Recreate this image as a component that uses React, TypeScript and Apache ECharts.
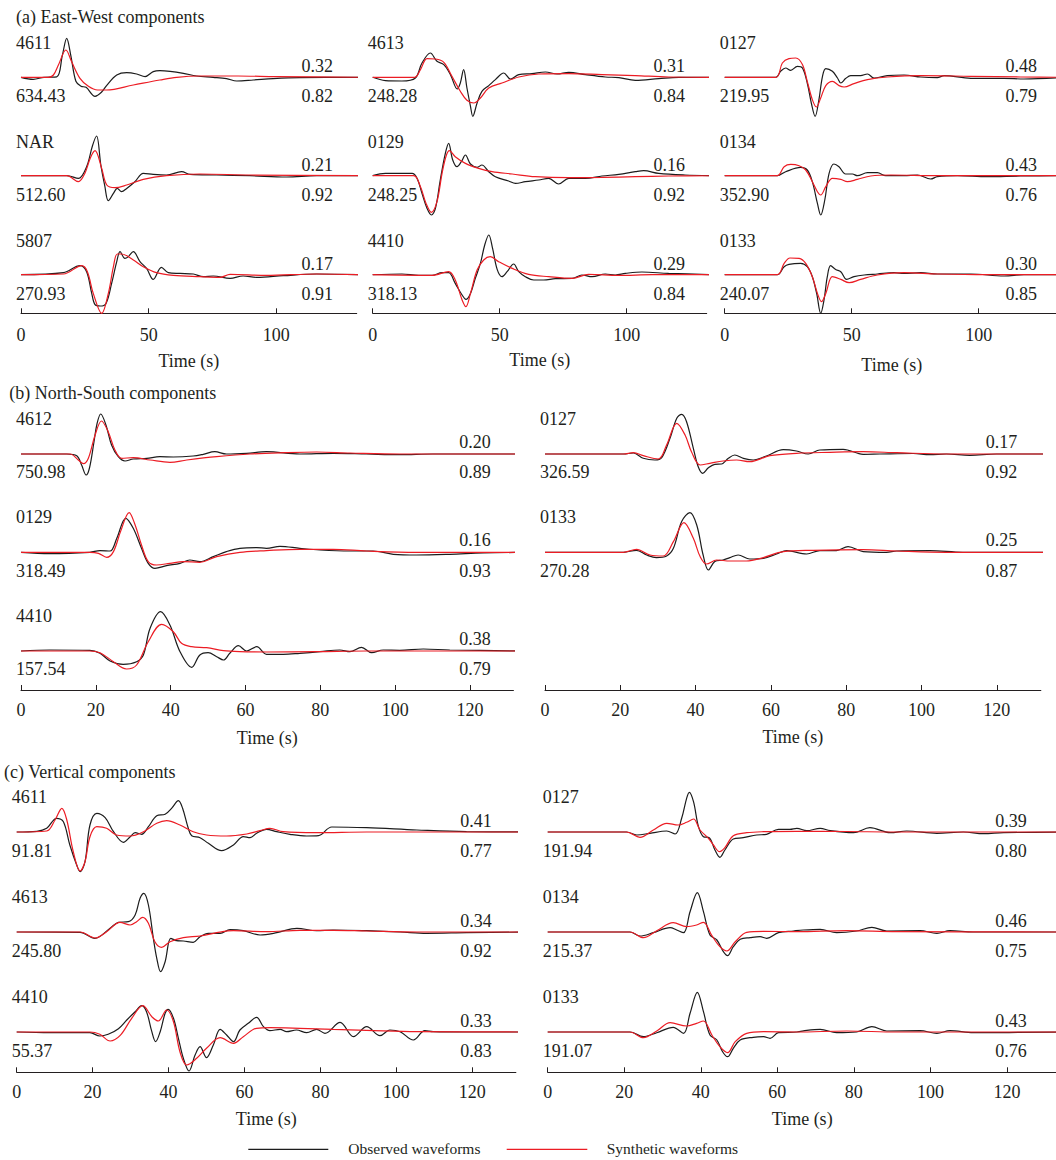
import React, { useEffect, useRef } from "react";
import * as echarts from "echarts";

type Pt = [number, number];

// ---------- (a) East-West components: time (s), normalised amplitude ----------
const EW_4611_OBS: Pt[] = [[0,0],[4.8,-2],[9,0],[14,0.5],[16.2,22],[17.9,39],[19.5,22],[21.5,-4],[23.5,-9],[25.5,-10],[29,-19],[31.5,-15],[33.6,-8],[37.5,2.3],[41.4,4.7],[45.3,3.3],[48.6,0.7],[51.8,5.7],[54.4,6.7],[58.4,6],[63.6,4],[68.8,1.3],[75.3,0],[80.5,-1.3],[84.5,-3.7],[91,-2.7],[98.8,-1.3],[109.3,-0.3],[135,0]];
const EW_4611_SYN: Pt[] = [[0,0],[10.7,0],[12.7,2.3],[14.6,12],[17.6,27.3],[19.8,15.7],[23.1,-1],[26.4,-9],[30,-12.7],[33.5,-12.7],[44,-7.7],[54.4,-2.7],[61,0],[70,1.3],[85,1.3],[100,0.7],[135,0]];
const EW_NAR_OBS: Pt[] = [[0,0],[17.9,0],[22.5,-2.7],[25.7,9],[28,30],[29.6,39.7],[31.3,10],[32.8,-10],[34.2,-25],[36.2,-17.7],[37.7,-12.7],[39.4,-16],[41.4,-12.7],[44.6,-6],[47.9,2.3],[51.8,1.3],[57,0.7],[62.9,4],[66.2,1.3],[76.6,0.7],[89.7,0],[104,-1.3],[115.8,0],[135,0]];
const EW_NAR_SYN: Pt[] = [[0,0],[17.9,0],[22.5,-6],[25,2.3],[27.2,18],[29,25],[31.6,7.3],[33.6,-9.3],[36.8,-12],[41.4,-9.3],[47.9,-3.7],[57,0],[70,1.7],[89.7,0.7],[135,0]];
const EW_5807_OBS: Pt[] = [[0,0],[16.6,2],[23.1,9],[25.7,3],[27.7,-18.7],[29,-30],[31,-31.3],[33.3,-28.7],[35.5,-8.7],[37.5,13],[38.8,23],[40.7,16.3],[42,18],[44,23],[46.6,13],[49.2,6.3],[51.8,-4.7],[55,7.3],[57.7,2],[62.3,1.3],[67.5,0.7],[71.4,-2],[75.3,-1.3],[81.9,-3.7],[87,-1.3],[92.3,-2.7],[102.7,-1],[115.8,0.7],[135,0]];
const EW_5807_SYN: Pt[] = [[0,0],[16.6,0.7],[23.8,9],[26,3],[28.3,-18.7],[31.6,-38.7],[34.2,-18.7],[36.2,8],[37.7,20.7],[39.4,20.7],[44,14.7],[47.9,8],[53.1,2],[59.7,-0.7],[70,-2],[78,-2.7],[81.9,0.3],[96,-0.7],[115.8,0.7],[135,0]];
const EW_4613_OBS: Pt[] = [[0,0],[5,-3.3],[11.5,-3.7],[16.8,-0.7],[19.4,14.3],[22.7,24.3],[25.3,16],[28,12.7],[30.6,2.7],[33.3,-11.7],[34.5,-5.7],[35.8,7.7],[37.1,-10.7],[38.5,-29],[39.4,-39],[41.1,-25.7],[43,-14],[45.7,-8.3],[48.3,-2.3],[51.6,4.3],[54.2,-1.7],[57.5,2.7],[62.7,3.7],[68,5.3],[72.6,3.3],[77.2,5],[83.7,2.7],[91.6,0.3],[96.9,-0.3],[103.4,-3],[112.6,-1.3],[120.5,0],[135,0]];
const EW_4613_SYN: Pt[] = [[0,0],[16.5,0],[18.8,7.7],[21.4,18.7],[24.7,18.3],[28,15],[31.2,1],[34.5,-14],[37.1,-23],[39.8,-25.7],[42.4,-20.7],[45.7,-10.7],[50.9,-5.7],[57.5,0.3],[65.4,3.3],[77.2,3.7],[90.3,2.7],[103.4,1.7],[116.5,0.3],[135,0]];
const EW_0129_OBS: Pt[] = [[0,0],[5,2.3],[15.5,2.3],[17.5,-2.7],[19.4,-17.7],[21.4,-32.7],[23.1,-39.3],[24.7,-32.7],[26.6,-4.3],[28.6,22.3],[29.9,32.3],[31.5,15.7],[33.2,9],[34.9,14],[36.5,20.7],[38.5,11.7],[41.1,8.3],[43,10.7],[45.7,4],[48.3,-1],[53.5,-5.3],[56.2,-7.7],[60.1,-6],[65.4,-4.3],[69.3,-2.7],[73.2,-8.3],[77.2,-2.7],[83.7,-2.7],[90.3,-0.3],[96.9,1.3],[103.4,4],[106.7,5],[112.6,2.3],[123,0.7],[135,0]];
const EW_0129_SYN: Pt[] = [[0,0],[16.1,0],[18.8,-11],[21,-27.7],[23.1,-36.7],[25.3,-26],[27.3,2.3],[28.9,19.7],[30.2,25],[32.5,19],[36.5,12.3],[41.7,7.3],[47,4],[54.9,1.7],[64,-1],[77.2,-2],[90.3,-1.7],[103.4,-1],[116.5,-0.3],[135,0]];
const EW_4410_OBS: Pt[] = [[0,0],[11.5,0.7],[18.1,-0.7],[23.4,-0.7],[27.3,2],[29.9,2],[32.5,-8.7],[35.2,-20.3],[36.7,-24.7],[38.5,-18.7],[40.4,-3.7],[42.4,11.3],[44.1,29.7],[45.7,39.7],[47.2,26.3],[49,5.3],[50.9,-2],[52.9,3],[55.5,10.7],[57.5,3],[60.1,-2],[63.4,-5.3],[67.3,-5.3],[71.9,-4],[78.5,-3.7],[82.4,-0.3],[86.4,-2],[91.6,0.7],[95.5,-0.3],[99.5,1.3],[106,2.7],[116.5,1.3],[135,0]];
const EW_4410_SYN: Pt[] = [[0,0],[23.4,-0.7],[29.9,3],[32.5,-5.3],[35.2,-25.3],[36.7,-32],[38.5,-18.7],[41.1,4.7],[43.7,14.7],[46.3,18],[49.6,13],[54.9,6.3],[61.4,0.3],[69.3,-2],[78.5,-3.7],[85,0.3],[96.9,-0.7],[110,0],[135,0]];
const EW_0127_OBS: Pt[] = [[0,0],[20.1,0],[22,6],[24,9.3],[26,7],[28.6,11],[30.6,9.3],[32.5,-5.7],[34.1,-25.7],[35.6,-39],[37.1,-22.3],[38.5,1],[39.8,8.7],[42.4,6],[44.4,-0.7],[45.7,-5.7],[47.6,-1.3],[49.6,1.7],[53.5,1.7],[56.2,3.3],[58.8,-0.7],[64,1.7],[70.6,2.3],[77.2,0.3],[83.7,-0.3],[86.4,1.7],[96.9,-1],[110,-1],[117.8,-1.7],[135,0]];
const EW_0127_SYN: Pt[] = [[0,0],[20.1,0],[22.7,14.3],[25.3,18.7],[28,19.3],[30.6,12.7],[32.5,-4],[34.5,-22.3],[36.1,-29.7],[37.8,-20.7],[39.8,-8.3],[42.4,-4],[45,-8.3],[47,-9.7],[50.9,-6.3],[56.2,-2.3],[64,0.3],[77.2,1.7],[96.9,1],[116.5,0.3],[135,0]];
const EW_0134_OBS: Pt[] = [[0,0],[20.7,0],[24,4],[29.9,8.3],[32.5,5.7],[34.5,-6],[36.5,-27.7],[37.8,-39.3],[39.4,-24.3],[41.1,2.3],[43,11.7],[45,9],[47.6,1.7],[50.3,1.7],[52.2,0],[56.2,3],[60.1,3],[63.4,0],[70.6,0],[75.9,0.7],[81.1,-3.3],[83.7,-1],[91.6,0],[103.4,-1],[116.5,-0.3],[135,0]];
const EW_0134_SYN: Pt[] = [[0,0],[20.7,0],[23.4,9],[26,11.3],[29.3,10],[31.9,5.7],[34.5,-6],[36.5,-16],[37.8,-19.3],[39.8,-11],[42.4,-2.7],[45.7,-3.7],[48.3,-6],[52.2,-3.7],[57.5,-0.3],[65.4,0.7],[83.7,0],[135,0]];
const EW_0133_OBS: Pt[] = [[0,0],[20.7,0],[23.4,8],[25.3,10.3],[29.9,11.3],[32.5,8],[34.5,-2],[36.2,-18.7],[37.8,-38.7],[39.1,-25.3],[40.4,-2],[41.7,9],[43.7,5.3],[45.7,3],[48,-4.7],[50.9,-2],[54.9,-0.3],[60.1,0.7],[66.7,2],[70.6,1.3],[77.2,2],[83.7,0.7],[96.9,0.7],[110,-1.3],[117.8,0],[135,0]];
const EW_0133_SYN: Pt[] = [[0,0],[20.7,0],[23.4,11.3],[25.7,16.7],[29.3,16.3],[31.9,11.3],[34.5,-2],[36.5,-18.7],[38.1,-27],[39.8,-18.7],[42.4,-2],[45.7,-4.7],[49,-8],[53.5,-4.7],[60.1,-0.3],[70.6,2],[83.7,0.7],[103.4,0],[135,0]];

// ---------- (b) North-South components ----------
const NS_4612_OBS: Pt[] = [[0,0],[12.2,0],[14.9,-1.7],[16.2,-11],[17.4,-21],[18.3,-14],[19.5,12],[20.3,30],[21.3,40],[22.7,29],[24.2,9],[26,-2.7],[27.8,-7],[30,-5],[33.6,-4.3],[37.1,-2.7],[40.7,-3],[46,-2],[48.7,-0.3],[51.8,2.3],[54.9,0],[60.3,0.7],[65.6,2.3],[74.5,0],[83.4,0.7],[92.3,0],[101.2,-0.7],[110,0],[135,0]];
const NS_4612_SYN: Pt[] = [[0,0],[13.1,0],[15.3,-6],[16.7,-9.7],[18,-4.3],[19.8,19],[21.5,33],[23.3,22.3],[25.1,4],[26.9,-4.3],[30,-3.7],[34.5,-6],[39.8,-8.3],[44.3,-6],[52.3,-2.7],[61.2,0],[70.1,1.3],[79,2],[87.9,1],[101.2,0],[135,0]];
const NS_0129_OBS: Pt[] = [[0,0],[7.7,-1.3],[18.4,0],[21.1,1.7],[23.8,1.3],[25.6,14],[28,34],[30,24],[32.2,4],[34,-11],[35.8,-16],[38.9,-13.3],[42.5,-11],[45.1,-7.7],[47.8,-9.3],[51.4,-4.3],[54.9,0.7],[58.5,4],[63,4.7],[65.6,4],[69.2,6],[74.5,4],[79.9,2.3],[87.9,1.3],[94.1,1.3],[99.5,-2],[105.7,-2.7],[114.6,-2],[123.5,-0.7],[135,0]];
const NS_0129_SYN: Pt[] = [[0,0],[18.4,0],[20.7,-1],[22.9,-5],[24.7,0.7],[26.6,20.7],[28.9,39.7],[30.5,27.3],[32.2,7.3],[34,-9.3],[36.2,-12.7],[39.8,-11],[43.4,-9.3],[47.8,-10],[52.3,-4.3],[58.5,0],[65.6,1.7],[74.5,3],[83.4,3],[92.3,1.3],[105.7,0],[135,0]];
const NS_4410_OBS: Pt[] = [[0,0],[7.7,1],[18.4,0.7],[21.1,-2.3],[23.8,-10],[27.3,-13.3],[30.9,-10.7],[32.7,-4],[34.5,22.7],[37.3,39.3],[39.8,26],[42.5,-0.7],[45.6,-16.3],[47.8,-4],[50,-1.7],[52.3,-5.7],[54.1,-9],[55.8,-2.3],[58.1,5.3],[60.3,0],[63,4.3],[65.6,-3.3],[70.1,-3.3],[74.5,-2.3],[79.9,-0.7],[85.2,1],[87.9,-0.7],[91,3.7],[93.7,-1.7],[96.8,1],[101.2,0.7],[107.5,2],[114.6,1],[135,0]];
const NS_4410_SYN: Pt[] = [[0,0],[18.4,0],[21.1,-1.7],[24.7,-10.7],[28.2,-18],[30.9,-14],[34,9.3],[37.6,26.7],[40.7,19.3],[42.9,7.7],[45.6,4.3],[49.6,3.3],[54.1,0.3],[58.5,-0.7],[65.6,-1],[79,-0.7],[92.3,0],[135,0]];
const NS_0127_OBS: Pt[] = [[0,0],[20.8,0],[23.5,1],[26.1,-4.3],[29.2,-6],[31,-3.7],[33.2,15.7],[35,35.7],[36.3,39.7],[37.6,32.3],[39.4,5.7],[40.7,-12.7],[41.9,-19.3],[43.4,-13.7],[45.1,-10.3],[46.9,-10],[48.7,-4.3],[50.4,-1],[52.7,-4.3],[55.3,-6],[58.8,-2],[63.3,4.3],[66.8,3],[69.9,0],[73,4],[79.2,4.7],[84.5,-0.3],[88.9,0],[97.8,0.5],[102.2,-0.7],[106.6,0],[112.8,-1.3],[119.9,0],[135,0]];
const NS_0127_SYN: Pt[] = [[0,0],[20.8,0],[23.5,1.3],[26.1,-1.7],[30.1,-5],[32.3,9],[35,30.7],[37.2,19],[38.9,2.3],[41.2,-11],[43.8,-9.3],[47.3,-7],[50.9,-6],[54.4,-7.7],[59.7,-1.7],[66.8,0.7],[75.7,1.7],[84.5,2.3],[93.4,1.3],[106.6,0],[135,0]];
const NS_0133_OBS: Pt[] = [[0,0],[20.8,0],[24.3,2],[27,-2.7],[29.6,-5.3],[32.3,-3.7],[34.1,4],[36.3,30.7],[38.5,39.7],[40.3,27.3],[42,-2.7],[43.4,-17.7],[45.1,-9.3],[47.3,-7.7],[49.1,-5.3],[51.3,-2.7],[54.4,-6.7],[58,-6],[61.5,-1.7],[64.2,1.7],[69.5,-1.7],[73,1.7],[77.4,1.7],[80.5,5.7],[84.5,0.7],[90.7,0],[93.4,1.3],[102.2,1.7],[111,0],[135,0]];
const NS_0133_SYN: Pt[] = [[0,0],[20.8,0],[24.3,3],[27.9,-2.7],[31.4,-3.7],[34.1,10.7],[36.9,29.7],[39.4,14],[41.2,-4.3],[42.9,-11.7],[45.6,-7.7],[49.1,-8.7],[53.5,-8.7],[58,-5.3],[63.3,0.7],[71.2,2],[84.5,2.7],[93.4,1.3],[106.6,0],[135,0]];

// ---------- (c) Vertical components ----------
const UD_4611_OBS: Pt[] = [[0,0],[5.3,0.7],[7.9,3.7],[10.5,13.7],[12.3,10.3],[14,-13],[15.8,-33],[16.7,-39.7],[18,-29.7],[19.3,7],[21.1,18.7],[23.3,14.3],[25.5,0.3],[28.1,-10.3],[29.9,-4.7],[31.2,-0.7],[32.9,-2.3],[34.7,5.3],[36.9,16.3],[39.1,17.7],[40.8,23.7],[42.6,31.3],[43.7,23.7],[45.2,3.7],[46.1,-3.7],[48.3,-5.7],[50.5,-11.3],[54,-18.7],[57.1,-13],[59.7,-4.7],[61.5,-5.7],[63.2,-1.3],[65.8,2.7],[68.5,0.3],[72,-2.3],[76.4,-4],[79.5,-3.7],[83,5],[92.2,4.3],[105.4,2],[118.5,0.3],[135,0]];
const UD_4611_SYN: Pt[] = [[0,0],[7.9,1],[10.1,12],[11.9,23.7],[13.2,12],[14.9,-19.7],[16.7,-39],[18,-29.7],[19.3,-4.7],[21.1,5.3],[23.7,3.7],[26.3,-3],[29.9,-4],[33.4,0.3],[36.9,8.7],[39.5,11.3],[43,7],[46.5,0.3],[50,-3],[55.3,-4],[60.6,-2],[64.1,1.3],[66.7,3.7],[70.2,0.3],[79,-0.7],[92.2,0],[135,0]];
const UD_4613_OBS: Pt[] = [[0,0],[16.7,-0.3],[20.6,-6.3],[24.6,3.7],[26.8,9.7],[29.4,10.3],[31.2,17],[32.5,33.7],[33.5,38.7],[34.7,27],[36,-6.3],[36.9,-26.3],[37.9,-39.7],[39.1,-29.7],[40.6,-6.3],[42.1,-8.7],[43.9,-9],[46.5,-10.3],[48.3,-4.7],[50.5,-1.3],[53.6,-1.3],[56.2,2.3],[59.7,1.3],[64.1,-3],[68.5,-0.7],[73.8,3.7],[79,1.3],[83.4,2],[92.2,1.3],[101,0],[108,-1.3],[118.5,-0.7],[135,0]];
const UD_4613_SYN: Pt[] = [[0,0],[16.7,0],[20.6,-6],[23.7,0.3],[27.2,9.7],[29.9,7],[31.6,10.3],[33.2,14.7],[34.7,8.7],[36.4,-9.7],[38.2,-15.3],[40.4,-9.7],[43.9,-5.7],[48.3,-4],[52.7,-0.7],[57.1,1.3],[65.8,0.3],[74.6,1.7],[83.4,1.7],[92.2,1],[105.4,0],[135,0]];
const UD_4410_OBS: Pt[] = [[0,0],[8.8,-0.7],[19.3,-0.7],[21.9,-4],[24.1,-2.3],[26.8,3.3],[29,12],[31.2,20.3],[32.9,26.3],[34.2,20.3],[35.6,0.3],[36.6,-9.7],[37.8,0.3],[39.1,18.7],[39.9,22.7],[41.3,13.7],[42.6,-6.3],[43.9,-26.3],[45.4,-39],[47,-23],[48.3,-14.7],[50,-25.7],[51.8,-13],[53.6,2.7],[55.3,-3],[57.1,-9.7],[58.8,2],[61,8.7],[63.2,14.7],[65,5.3],[66.7,1.3],[69.4,2.7],[71.1,0.3],[73.7,2],[76.4,-0.7],[79,2.7],[81.2,-1.3],[85.2,9.7],[88.7,-4.7],[92.2,5.3],[95.7,-3.7],[98.3,2],[101,0.3],[104.5,-8],[107.5,1.3],[109.7,0.3],[118.5,0],[135,0]];
const UD_4410_SYN: Pt[] = [[0,0],[19.3,0],[21.9,-2.3],[24.6,-9],[27.2,-3.7],[30.3,13.7],[33.2,26.3],[35.6,15.3],[37.3,11],[39.5,22],[41.3,10.3],[43,-19.7],[44.8,-33],[47.4,-26.3],[50,-16.3],[53.6,-5.7],[57.1,-11.3],[59.7,-4.7],[63.2,3.7],[66.7,4.3],[74.6,3.7],[83.4,2.7],[92.2,1.7],[105.4,0.3],[135,0]];
const UD_0127_OBS: Pt[] = [[0,0],[20.6,0],[23.3,-3],[26.7,-1.3],[31.1,1],[33.3,-2],[35,13.7],[36.3,33.7],[37,39.7],[38.1,30.3],[39.4,5.3],[40.7,-4.7],[42.2,-5.7],[43.7,-18],[45,-25.3],[46.3,-18],[48.5,-7],[51.1,-5.7],[54.6,-3],[57.2,-2.3],[60.3,2.7],[63.3,2.7],[65.1,3.7],[67.7,1.3],[71.2,3.7],[73.8,1.3],[79.9,-0.7],[84.2,4.3],[89.5,-0.7],[93.8,1],[101.7,-1.3],[108.6,0],[113.9,-1.7],[119.1,-0.7],[135,0]];
const UD_0127_SYN: Pt[] = [[0,0],[20.6,0],[24.1,-5.3],[27.6,2],[31.1,8.7],[34.1,7],[36.3,9.7],[38.1,13],[39.8,2],[42,-6.3],[43.3,-13],[44.9,-19.7],[46.3,-15.7],[48.5,-3.7],[52,-0.7],[56.4,0.3],[65.1,0.7],[78.1,0.5],[91.2,0],[135,0]];
const UD_0134_OBS: Pt[] = [[0,0],[21.5,0],[24.1,-4],[27.6,-0.7],[32,4.3],[33.7,2],[35.5,-0.7],[37.2,20.3],[39.1,39.3],[40.7,20.3],[42.4,-3],[44.2,-8],[45.9,-19.7],[47,-23.7],[48.5,-14.7],[50.3,-7.3],[52.9,-5.7],[55.5,-4.7],[57.2,-6.3],[60.3,-0.7],[64.2,1],[66.8,2],[71.2,2.7],[75.5,-0.7],[80.7,1],[84.7,4.7],[88.6,1],[97.3,1.3],[101.7,-1.3],[105.1,1.3],[111.2,0],[135,0]];
const UD_0134_SYN: Pt[] = [[0,0],[21.5,0],[25,-5.7],[28.5,1.3],[32.8,9.3],[36.3,5.3],[38.9,7],[40.7,9.7],[42.9,-3.7],[45,-14.7],[46.8,-19],[49,-9.7],[52,-0.3],[56.4,0.7],[65.1,0.3],[78.1,1.3],[91.2,0.3],[135,0]];
const UD_0133_OBS: Pt[] = [[0,0],[21.5,0],[25,-4.7],[28.5,-0.7],[32.8,4.7],[35.5,-1.3],[37.2,18.7],[39.1,39.7],[40.7,20.3],[42.4,-3],[44.2,-8],[45.7,-19.7],[47,-24.7],[48.5,-16.3],[50.3,-8],[53.7,-5.3],[56.4,-4.7],[58.1,-6.3],[60.3,-0.7],[65.1,0],[67.7,1.7],[71.2,2.7],[75.5,-0.7],[80.7,0],[84.7,5.3],[88.6,1],[97.3,1.3],[101.7,-1.3],[105.1,1.3],[111.2,-0.7],[135,0]];
const UD_0133_SYN: Pt[] = [[0,0],[21.5,0],[25,-5.7],[28.5,1],[32,9.3],[36.3,6],[38.9,8.7],[40.7,11],[42.9,-3],[45,-14.7],[47,-20.7],[49,-9.7],[52,-1.3],[56.4,0.3],[65.1,0],[78.1,1],[91.2,0],[135,0]];

// ---------- station labels (column-major: top to bottom, then next column) ----------
const EW_STATIONS = ["4611", "NAR", "5807", "4613", "0129", "4410", "0127", "0134", "0133"];
const EW_AMPS = ["634.43", "512.60", "270.93", "248.28", "248.25", "318.13", "219.95", "352.90", "240.07"];
const EW_MISFIT = ["0.32", "0.21", "0.17", "0.31", "0.16", "0.29", "0.48", "0.43", "0.30"];
const EW_CORR = ["0.82", "0.92", "0.91", "0.84", "0.92", "0.84", "0.79", "0.76", "0.85"];
const EW_OBS = [EW_4611_OBS, EW_NAR_OBS, EW_5807_OBS, EW_4613_OBS, EW_0129_OBS, EW_4410_OBS, EW_0127_OBS, EW_0134_OBS, EW_0133_OBS];
const EW_SYN = [EW_4611_SYN, EW_NAR_SYN, EW_5807_SYN, EW_4613_SYN, EW_0129_SYN, EW_4410_SYN, EW_0127_SYN, EW_0134_SYN, EW_0133_SYN];

const NS_STATIONS = ["4612", "0129", "4410", "0127", "0133"];
const NS_AMPS = ["750.98", "318.49", "157.54", "326.59", "270.28"];
const NS_MISFIT = ["0.20", "0.16", "0.38", "0.17", "0.25"];
const NS_CORR = ["0.89", "0.93", "0.79", "0.92", "0.87"];
const NS_OBS = [NS_4612_OBS, NS_0129_OBS, NS_4410_OBS, NS_0127_OBS, NS_0133_OBS];
const NS_SYN = [NS_4612_SYN, NS_0129_SYN, NS_4410_SYN, NS_0127_SYN, NS_0133_SYN];

const UD_STATIONS = ["4611", "4613", "4410", "0127", "0134", "0133"];
const UD_AMPS = ["91.81", "245.80", "55.37", "191.94", "215.37", "191.07"];
const UD_MISFIT = ["0.41", "0.34", "0.33", "0.39", "0.46", "0.43"];
const UD_CORR = ["0.77", "0.92", "0.83", "0.80", "0.75", "0.76"];
const UD_OBS = [UD_4611_OBS, UD_4613_OBS, UD_4410_OBS, UD_0127_OBS, UD_0134_OBS, UD_0133_OBS];
const UD_SYN = [UD_4611_SYN, UD_4613_SYN, UD_4410_SYN, UD_0127_SYN, UD_0134_SYN, UD_0133_SYN];

const EW_TICKS = [0, 50, 100];
const NS_TICKS = [0, 20, 40, 60, 80, 100, 120];
const UD_TICKS = [0, 20, 40, 60, 80, 100, 120];

const OBS_NAME = "Observed waveforms";
const SYN_NAME = "Synthetic waveforms";
const AXIS_NAME = "Time (s)";

// ---------- styling and layout ----------
const FONT = '"Liberation Serif", "Times New Roman", serif';
const TEXT_COLOR = "#231f20";
const OBS_COLOR = "#1c1c1c";
const SYN_COLOR = "#ec1c24";
const HALF = 45; // half height of each trace strip, in amplitude units (1 unit = 1px)

interface Column {
  x0: number;
  pps: number; // pixels per second
  xMax: number;
  rows: number;
  nameGap: number;
  rightX: number;
}
interface Section {
  title: string;
  titleX: number;
  titleY: number;
  axisY: number;
  labelMargin: number;
  ticks: number[];
  baselines: number[];
  offsets: { name: number; amp: number; top: number; bottom: number };
  cols: Column[];
  stations: string[];
  amps: string[];
  misfit: string[];
  corr: string[];
  obs: Pt[][];
  syn: Pt[][];
}

const SECTIONS: Section[] = [
  {
    title: "(a) East-West components",
    titleX: 16,
    titleY: 17,
    axisY: 313.3,
    labelMargin: 12.5,
    ticks: EW_TICKS,
    baselines: [77.3, 175.7, 274.7],
    offsets: { name: -34, amp: 19, top: -11, bottom: 19 },
    cols: [
      { x0: 21, pps: 2.553, xMax: 131.5, rows: 3, nameGap: 39, rightX: 333 },
      { x0: 372.7, pps: 2.54, xMax: 131.5, rows: 3, nameGap: 37.5, rightX: 685 },
      { x0: 724.7, pps: 2.54, xMax: 131.5, rows: 3, nameGap: 42.5, rightX: 1037 },
    ],
    stations: EW_STATIONS,
    amps: EW_AMPS,
    misfit: EW_MISFIT,
    corr: EW_CORR,
    obs: EW_OBS,
    syn: EW_SYN,
  },
  {
    title: "(b) North-South components",
    titleX: 9.3,
    titleY: 393.3,
    axisY: 690,
    labelMargin: 11,
    ticks: NS_TICKS,
    baselines: [454, 552.3, 651],
    offsets: { name: -35, amp: 18.3, top: -12, bottom: 18.3 },
    cols: [
      { x0: 21, pps: 3.742, xMax: 131.6, rows: 3, nameGap: 39, rightX: 490.7 },
      { x0: 545, pps: 3.765, xMax: 131.7, rows: 2, nameGap: 38, rightX: 1017.3 },
    ],
    stations: NS_STATIONS,
    amps: NS_AMPS,
    misfit: NS_MISFIT,
    corr: NS_CORR,
    obs: NS_OBS,
    syn: NS_SYN,
  },
  {
    title: "(c) Vertical components",
    titleX: 4,
    titleY: 772.3,
    axisY: 1072.3,
    labelMargin: 11,
    ticks: UD_TICKS,
    baselines: [832, 932, 1032],
    offsets: { name: -35, amp: 19, top: -11, bottom: 19 },
    cols: [
      { x0: 16.7, pps: 3.796, xMax: 131.5, rows: 3, nameGap: 38, rightX: 491.7 },
      { x0: 547.7, pps: 3.827, xMax: 133, rows: 3, nameGap: 38, rightX: 1026.7 },
    ],
    stations: UD_STATIONS,
    amps: UD_AMPS,
    misfit: UD_MISFIT,
    corr: UD_CORR,
    obs: UD_OBS,
    syn: UD_SYN,
  },
];

function text(str: string, x: number, y: number, align: string, size = 18) {
  return {
    type: "text",
    x,
    y,
    silent: true,
    style: {
      text: str,
      fill: TEXT_COLOR,
      font: `${size}px ${FONT}`,
      align,
      verticalAlign: "middle",
      textAlign: align,
      textVerticalAlign: "middle",
    },
  };
}

function buildOption() {
  const grid: any[] = [];
  const xAxis: any[] = [];
  const yAxis: any[] = [];
  const series: any[] = [];
  const graphics: any[] = [];

  for (const sec of SECTIONS) {
    graphics.push(text(sec.title, sec.titleX, sec.titleY, "left"));
    let traceIdx = 0;
    for (const col of sec.cols) {
      const width = col.pps * col.xMax;
      for (let r = 0; r < col.rows; r++) {
        const i = traceIdx++;
        const base = sec.baselines[r];
        const g = grid.length;
        grid.push({ left: col.x0, top: base - HALF, width, height: HALF * 2, containLabel: false, outerBoundsMode: "none" });
        xAxis.push({ type: "value", gridIndex: g, min: 0, max: col.xMax, show: false });
        yAxis.push({ type: "value", gridIndex: g, min: -HALF, max: HALF, show: false });
        const common = {
          type: "line",
          xAxisIndex: g,
          yAxisIndex: g,
          symbol: "none",
          showSymbol: false,
          smooth: 0.35,
          silent: true,
          clip: true,
        };
        series.push({ ...common, name: OBS_NAME, data: sec.obs[i], z: 2, lineStyle: { color: OBS_COLOR, width: 1.2 } });
        series.push({ ...common, name: SYN_NAME, data: sec.syn[i], z: 3, lineStyle: { color: SYN_COLOR, width: 1.2 } });

        const nameX = col.x0 - 5;
        graphics.push(text(sec.stations[i], nameX, base + sec.offsets.name, "left"));
        graphics.push(text(sec.amps[i], nameX, base + sec.offsets.amp, "left"));
        graphics.push(text(sec.misfit[i], col.rightX, base + sec.offsets.top, "right"));
        graphics.push(text(sec.corr[i], col.rightX, base + sec.offsets.bottom, "right"));
      }

      // time axis under the column
      const g = grid.length;
      grid.push({ left: col.x0, top: sec.axisY - 20, width, height: 20, containLabel: false, outerBoundsMode: "none" });
      xAxis.push({
        type: "value",
        gridIndex: g,
        min: 0,
        max: col.xMax,
        position: "bottom",
        name: AXIS_NAME,
        nameLocation: "middle",
        nameGap: col.nameGap,
        nameTextStyle: { fontFamily: FONT, fontSize: 18, color: TEXT_COLOR },
        axisLine: { show: true, onZero: false, lineStyle: { color: TEXT_COLOR, width: 1 } },
        axisTick: { show: true, inside: true, length: 5, customValues: sec.ticks, lineStyle: { color: TEXT_COLOR, width: 1 } },
        axisLabel: { show: true, customValues: sec.ticks, margin: sec.labelMargin, fontFamily: FONT, fontSize: 18, color: TEXT_COLOR },
        splitLine: { show: false },
      });
      yAxis.push({ type: "value", gridIndex: g, min: 0, max: 1, show: false });
    }
  }

  // legend row
  const ly = 1149.3;
  graphics.push({ type: "line", silent: true, shape: { x1: 248.3, y1: ly, x2: 328.3, y2: ly }, style: { stroke: OBS_COLOR, lineWidth: 1.3 } });
  graphics.push(text(OBS_NAME, 348.3, ly - 1, "left", 15.5));
  graphics.push({ type: "line", silent: true, shape: { x1: 506.7, y1: ly, x2: 587.3, y2: ly }, style: { stroke: SYN_COLOR, lineWidth: 1.3 } });
  graphics.push(text(SYN_NAME, 606.7, ly - 1, "left", 15.5));

  return {
    animation: false,
    backgroundColor: "#ffffff",
    textStyle: { fontFamily: FONT },
    grid,
    xAxis,
    yAxis,
    series,
    graphic: { elements: graphics },
  };
}

export default function App() {
  const ref = useRef<HTMLDivElement>(null);

  useEffect(() => {
    document.body.style.margin = "0";
    document.body.style.overflow = "hidden";
    if (!ref.current) return;
    const chart = echarts.init(ref.current, undefined, { renderer: "svg" });
    chart.setOption(buildOption() as any);
    return () => chart.dispose();
  }, []);

  return (
    <div
      ref={ref}
      style={{ position: "absolute", left: 0, top: 0, width: 1056, height: 1160, background: "#fff" }}
    />
  );
}
